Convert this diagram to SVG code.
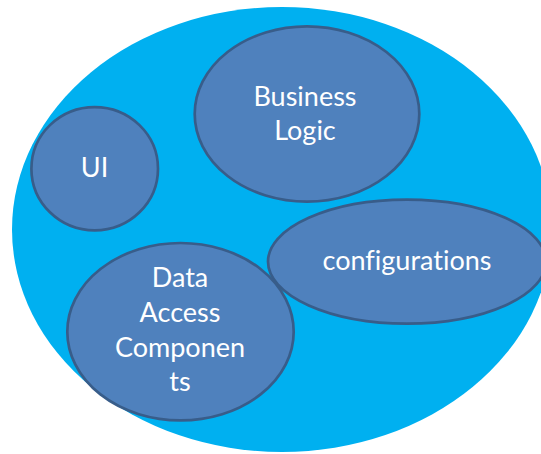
<svg xmlns="http://www.w3.org/2000/svg" width="541" height="454" viewBox="0 0 541 454">
<style>
.node{fill:#4F81BD;stroke:#385D8A;stroke-width:2.7}
.lbl{font-family:Lato,"Open Sans","Liberation Sans",sans-serif;font-size:27px;fill:#FFFFFF;text-anchor:middle;font-variant-ligatures:none;font-feature-settings:"liga" 0,"clig" 0,"dlig" 0}
</style>
<rect width="541" height="454" fill="#FFFFFF"/>
<g id="system">
<ellipse cx="282" cy="229.5" rx="270" ry="222.5" fill="#00B0F0"/>
</g>
<g id="connectors"></g>
<g id="business-logic">
<ellipse class="node" cx="307" cy="114" rx="112.3" ry="87.7"/>
<text class="lbl" x="305" y="106">Business</text>
<text class="lbl" x="305" y="140">Logic</text>
</g>
<g id="ui">
<ellipse class="node" cx="94.7" cy="168.7" rx="63.3" ry="61.6"/>
<text class="lbl" x="94.5" y="176.7">UI</text>
</g>
<g id="configurations">
<ellipse class="node" cx="407" cy="261.6" rx="139" ry="62"/>
<text class="lbl" x="407" y="270">configurations</text>
</g>
<g id="data-access-components">
<ellipse class="node" cx="180.5" cy="331.7" rx="113.2" ry="88.7"/>
<text class="lbl" x="180" y="286.7">Data</text>
<text class="lbl" x="180" y="321.7">Access</text>
<text class="lbl" x="180" y="356.7">Componen</text>
<text class="lbl" x="180" y="390.7">ts</text>
</g>
</svg>
